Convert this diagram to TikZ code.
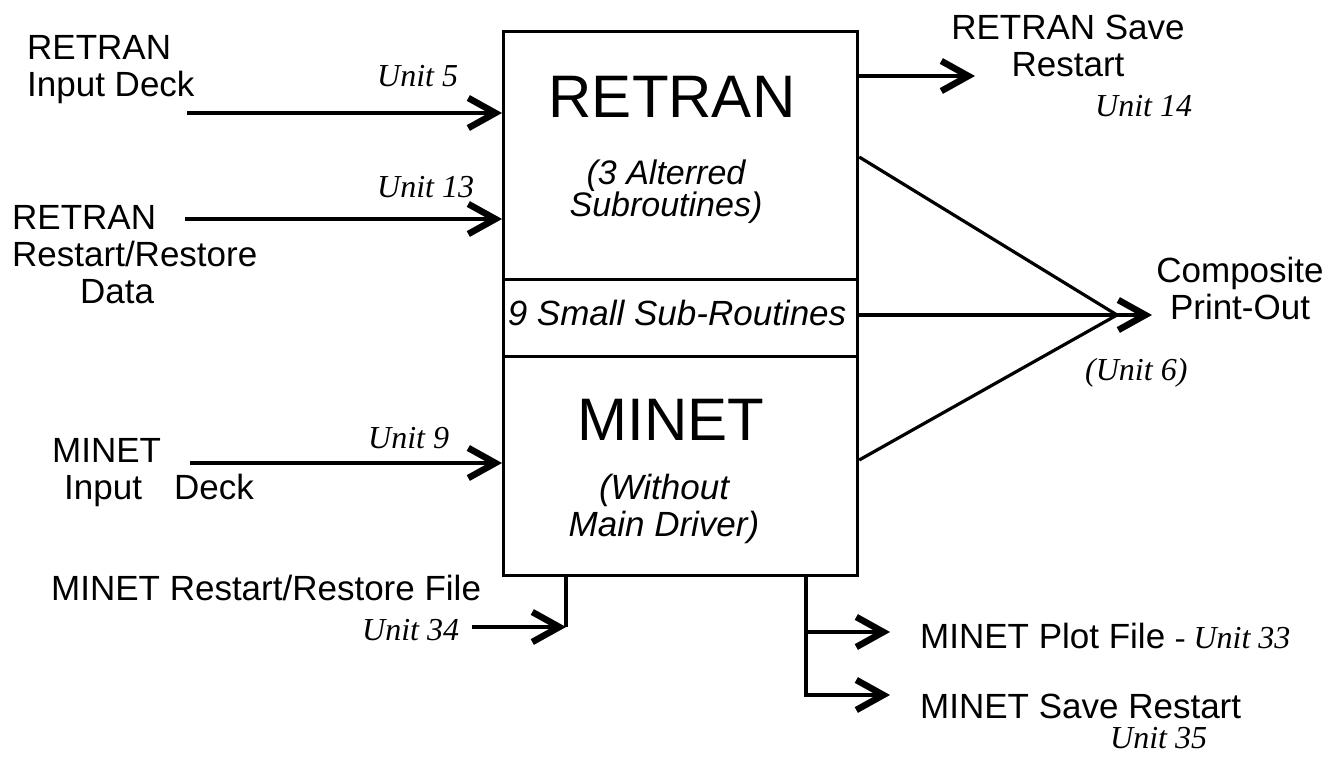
\documentclass[tikz,border=0pt]{standalone}
\usepackage{fontspec}
\newfontfamily\hv{Liberation Sans}
\newfontfamily\unitf{Liberation Serif}
\usetikzlibrary{arrows.meta,calc}
\tikzset{
  conn/.style={line width=3.2pt},
  arr/.style={conn,-{Straight Barb[length=27pt,width=30pt,line width=6.5pt]}},
  lbl/.style={inner sep=0pt,font=\hv\fontsize{35}{37}\selectfont},
  itl/.style={inner sep=0pt,font=\hv\itshape\fontsize{35}{37}\selectfont},
  itlb/.style={inner sep=0pt,font=\hv\itshape\fontsize{34}{32}\selectfont},
  big/.style={inner sep=0pt,font=\hv\fontsize{60}{64}\selectfont},
  unit/.style={inner sep=0pt,font=\unitf\itshape\fontsize{32}{34}\selectfont},
  part/.style={draw,line width=3.2pt,minimum width=354pt,anchor=north west,inner sep=0pt},
}
\begin{document}
\begin{tikzpicture}[x=1pt,y=-1pt]
\useasboundingbox[fill=white] (0,0) rectangle (1337,759);
% central box
\node[part,minimum height=248pt] (ret) at (502,30) {};
\node[part,minimum height=77pt] (sub) at (502,278) {};
\node[part,minimum height=219pt] (min) at (502,355) {};
\node[big,anchor=base] (retT) at (672,118) {RETRAN};
\node[itlb,align=center,anchor=north] (retS) at (666,160) {(3 Alterred\\Subroutines)};
\node[itl,anchor=base] (subT) at (677,325) {9 Small Sub-Routines};
\node[big,anchor=base] (minT) at (671,440) {MINET};
\node[itl,align=center,anchor=north] (minS) at (664,474) {(Without\\Main Driver)};
% left labels
\node[lbl,align=left,anchor=north west] (inR) at (27,35) {RETRAN\\Input Deck};
\node[lbl,align=left,anchor=north west] (rsR) at (12,205) {RETRAN\\Restart/Restore\\\hspace*{68pt}Data};
\node[lbl,align=left,anchor=north west] (inM) at (52,438) {MINET\\\hspace*{12pt}Input\hspace{32pt}Deck};
\node[lbl,anchor=base west] (rsM) at (51,600) {MINET Restart/Restore File};
% unit labels
\node[unit,anchor=base west] (u5) at (377,87) {Unit 5};
\node[unit,anchor=base west] (u13) at (377,198) {Unit 13};
\node[unit,anchor=base west] (u9) at (368,448) {Unit 9};
\node[unit,anchor=base west] (u34) at (362,640) {Unit 34};
\node[unit,anchor=base west] (u14) at (1095,117) {Unit 14};
\node[unit,anchor=base west] (u6) at (1085,380) {(Unit 6)};
\node[unit,anchor=base west] (u35) at (1110,748) {Unit 35};
% right labels
\node[lbl,align=center,anchor=north] (svR) at (1068,15) {RETRAN Save\\Restart};
\node[lbl,align=center,anchor=north] (comp) at (1240,257) {Composite\\Print-Out};
\node[lbl,anchor=base west] (plot) at (920,648) {MINET Plot File {\unitf\itshape\fontsize{32}{34}\selectfont - Unit 33}};
\node[lbl,anchor=base west] (svM) at (920,718) {MINET Save Restart};
% connectors
\coordinate (s5) at (187,113);
\coordinate (s13) at (185,219);
\coordinate (s9) at (190,463);
\coordinate (e14) at (975,76);
\coordinate (cv) at (1117,315);
\coordinate (ce) at (1152,315);
\coordinate (y1) at (0,157);
\coordinate (y3) at (0,460);
\coordinate (rj) at (566,627);
\coordinate (rs) at (472,627);
\coordinate (bj1) at (806,632);
\coordinate (pe) at (890,632);
\coordinate (se) at (890,695);
\draw[arr] (s5) -- (s5 -| ret.west);
\draw[arr] (s13) -- (s13 -| ret.west);
\draw[arr] (s9) -- (s9 -| min.west);
\draw[arr] (e14 -| ret.east) -- (e14);
\draw[conn] (ret.east |- y1) -- (cv);
\draw[conn] (min.east |- y3) -- (cv);
\draw[arr] (ce -| sub.east) -- (ce);
\draw[conn] (rj |- min.south) -- (rj);
\draw[arr] (rs) -- (rj);
\draw[arr] (bj1 |- min.south) |- (se);
\draw[arr] (bj1) -- (pe);
\end{tikzpicture}
\end{document}
